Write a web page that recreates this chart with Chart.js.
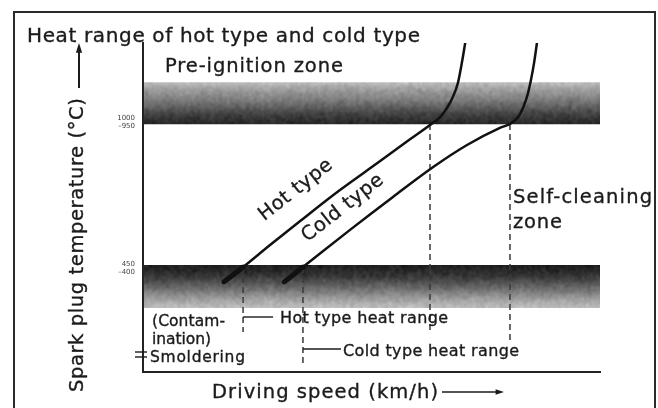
<!DOCTYPE html>
<html lang="en">
<head>
<meta charset="UTF-8">
<title>Heat range of hot type and cold type</title>
<style>
    body {
        margin: 0;
        background: #fff;
    }

    #heatChart {
        display: block;
    }
</style>
</head>
<body>

<canvas id="heatChart" width="658" height="408"></canvas>

<script src="https://cdn.jsdelivr.net/npm/chart.js"></script>
<script>
// Both axes are relative (0-100): driving speed across, plug temperature up
const hotSpeed = [17.7, 21.9, 27.8, 34.4, 43.1, 51.9, 58.5, 62.8, 65.0, 66.5, 67.8, 68.9, 69.8, 70.5];
const hotTemp = [27.4, 31.9, 38.6, 45.9, 55.3, 64.1, 70.8, 75.1, 77.5, 80.2, 83.6, 87.8, 94.2, 100];
const coldSpeed = [30.9, 35.0, 45.3, 54.7, 63.5, 70.9, 78.1, 80.3, 82.1, 83.2, 84.2, 84.9, 85.6, 86.2];
const coldTemp = [27.4, 31.9, 43.2, 53.2, 62.3, 69.0, 74.2, 75.4, 77.5, 80.5, 84.5, 88.8, 94.2, 100];

// temperature zones [low, high]
const preIgnitionBand = [75.4, 88.1];
const foulingBand = [19.5, 32.5];

// heat range of each plug type on the speed axis [start, end]
const hotRange = [21.9, 62.8];
const coldRange = [35.0, 80.3];

const tempTicks = [31.6, 76.0];
const tempTickLabels = [['450', '–400'], ['1000', '–950']];

const FONT = '"DejaVu Sans", sans-serif';
const INK = '#1b1b1b';

// text with its run stretched to a given width by letter spacing
function spacedText(ctx, text, x, y, size, width, opts = {}) {
    ctx.save();
    ctx.font = size + 'px ' + FONT;
    ctx.fillStyle = INK;
    ctx.strokeStyle = INK;
    ctx.lineWidth = 0.35;
    ctx.textBaseline = opts.baseline || 'alphabetic';
    ctx.textAlign = opts.align || 'left';
    const natural = ctx.measureText(text).width;
    if ('letterSpacing' in ctx && text.length > 1) {
        ctx.letterSpacing = ((width - natural) / (text.length - 1)).toFixed(2) + 'px';
    }
    ctx.translate(x, y);
    if (opts.rotate) ctx.rotate(opts.rotate);
    ctx.fillText(text, 0, 0);
    ctx.strokeText(text, 0, 0);
    ctx.restore();
}

function grey(stops, t) {
    t = Math.max(0, Math.min(1, t));
    for (let i = 1; i < stops.length; i++) {
        if (t <= stops[i][0]) {
            const [t0, v0] = stops[i - 1];
            const [t1, v1] = stops[i];
            return v0 + (v1 - v0) * (t - t0) / (t1 - t0);
        }
    }
    return stops[stops.length - 1][1];
}

// shaded, grainy strip used for the two temperature zones
// (pad extra pixels round it so the softening blur keeps crisp edges)
function bandTexture(w, h, pad, stops, seed) {
    const c = document.createElement('canvas');
    c.width = w + pad * 2;
    c.height = h + pad * 2;
    const g = c.getContext('2d');
    const img = g.createImageData(c.width, c.height);
    let s = seed;
    const grain = () => {
        s = (s * 1664525 + 1013904223) >>> 0;
        return s / 4294967296 - 0.5;
    };
    const streak = [];
    for (let x = 0; x < c.width; x++) streak.push(grain() * 10);
    for (let y = 0; y < c.height; y++) {
        const base = grey(stops, (y - pad) / (h - 1));
        for (let x = 0; x < c.width; x++) {
            const v = Math.max(0, Math.min(255, base + streak[x] + grain() * 60));
            const i = (y * c.width + x) * 4;
            img.data[i] = img.data[i + 1] = img.data[i + 2] = v;
            img.data[i + 3] = 255;
        }
    }
    g.putImageData(img, 0, 0);
    return c;
}

function drawBand(ctx, x, y, band, stops, seed) {
    const left = x.left + 1;
    const right = x.getPixelForValue(100);
    const top = y.getPixelForValue(band[1]);
    const bottom = y.getPixelForValue(band[0]);
    const w = Math.round(right - left);
    const h = Math.round(bottom - top);
    const pad = 4;
    ctx.save();
    ctx.beginPath();
    ctx.rect(left, top, w, h);
    ctx.clip();
    ctx.filter = 'blur(0.8px)';
    ctx.drawImage(bandTexture(w, h, pad, stops, seed), left - pad, top - pad);
    ctx.restore();
}

function arrow(ctx, x1, y1, x2, y2, head) {
    const a = Math.atan2(y2 - y1, x2 - x1);
    ctx.beginPath();
    ctx.moveTo(x1, y1);
    ctx.lineTo(x2 - Math.cos(a) * head, y2 - Math.sin(a) * head);
    ctx.stroke();
    ctx.beginPath();
    ctx.moveTo(x2, y2);
    ctx.lineTo(x2 - Math.cos(a) * head * 1.4 + Math.sin(a) * head * 0.45, y2 - Math.sin(a) * head * 1.4 - Math.cos(a) * head * 0.45);
    ctx.lineTo(x2 - Math.cos(a) * head * 1.4 - Math.sin(a) * head * 0.45, y2 - Math.sin(a) * head * 1.4 + Math.cos(a) * head * 0.45);
    ctx.closePath();
    ctx.fill();
}

const zonesPlugin = {
    id: 'zones',
    beforeDraw(chart) {
        const {ctx, scales: {x, y}} = chart;

        // pre-ignition zone: grey on top, dark toward the lower edge
        drawBand(ctx, x, y, preIgnitionBand, [[0, 190], [0.12, 165], [0.45, 120], [0.75, 68], [1, 40]], 7);
        // fouling zone: dark on top, fading downward
        drawBand(ctx, x, y, foulingBand, [[0, 30], [0.25, 55], [0.55, 110], [0.8, 160], [1, 190]], 19);

        ctx.save();
        // dashed limits of each heat range
        ctx.strokeStyle = '#3a3a3a';
        ctx.lineWidth = 1.5;
        ctx.setLineDash([6, 4]);
        const drops = [
            [hotRange[0], y.getPixelForValue(hotTemp[1]), 332],
            [hotRange[1], y.getPixelForValue(preIgnitionBand[0]), 332],
            [coldRange[0], y.getPixelForValue(coldTemp[1]), 365],
            [coldRange[1], y.getPixelForValue(preIgnitionBand[0]), 342]
        ];
        drops.forEach(([v, y0, y1]) => {
            const px = x.getPixelForValue(v);
            ctx.beginPath();
            ctx.moveTo(px, y0);
            ctx.lineTo(px, y1);
            ctx.stroke();
        });
        ctx.setLineDash([]);

        // leaders from the start lines to the range labels
        ctx.lineWidth = 1.4;
        ctx.strokeStyle = INK;
        let px = x.getPixelForValue(hotRange[0]);
        ctx.beginPath();
        ctx.moveTo(px, 317);
        ctx.lineTo(px + 30, 317);
        ctx.stroke();
        px = x.getPixelForValue(coldRange[0]);
        ctx.beginPath();
        ctx.moveTo(px, 349);
        ctx.lineTo(px + 38, 349);
        ctx.stroke();
        ctx.restore();
    },
    afterDraw(chart) {
        const {ctx, chartArea} = chart;
        ctx.save();

        // frame around the figure
        ctx.strokeStyle = '#2a2a2a';
        ctx.lineWidth = 2;
        ctx.strokeRect(14, 12, 641, 420);

        const slope = -38 * Math.PI / 180;
        spacedText(ctx, 'Heat range of hot type and cold type', 27, 42, 20, 393);
        spacedText(ctx, 'Pre-ignition zone', 165, 72, 19.5, 178);
        spacedText(ctx, 'Self-cleaning', 513, 203, 19.5, 139);
        spacedText(ctx, 'zone', 513, 228, 19.5, 49);
        spacedText(ctx, 'Hot type', 296, 190, 19.5, 88, {align: 'center', baseline: 'middle', rotate: slope});
        spacedText(ctx, 'Cold type', 343, 208, 19.5, 98, {align: 'center', baseline: 'middle', rotate: slope});
        spacedText(ctx, 'Hot type heat range', 280, 323, 16, 168);
        spacedText(ctx, 'Cold type heat range', 343, 356, 16, 176);
        spacedText(ctx, '(Contam-', 152, 326, 15.5, 73);
        spacedText(ctx, 'ination)', 152, 344, 15.5, 59);
        spacedText(ctx, 'Smoldering', 150, 362, 15.5, 95);

        // smoldering mark across the temperature axis
        ctx.strokeStyle = INK;
        ctx.lineWidth = 1.4;
        [352, 357].forEach(py => {
            ctx.beginPath();
            ctx.moveTo(chartArea.left - 8, py);
            ctx.lineTo(chartArea.left + 4, py);
            ctx.stroke();
        });

        // axis titles with their arrows
        spacedText(ctx, 'Spark plug temperature (°C)', 78, 392, 19.5, 294, {baseline: 'middle', rotate: -Math.PI / 2});
        spacedText(ctx, 'Driving speed (km/h)', 212, 398, 19.5, 226);
        ctx.fillStyle = INK;
        ctx.lineWidth = 2;
        arrow(ctx, 79, 88, 79, 43, 7);
        ctx.lineWidth = 1.6;
        arrow(ctx, 442, 392, 504, 392, 6);
        ctx.restore();
    }
};

const ctx = document.getElementById('heatChart').getContext('2d');

new Chart(ctx, {
    type: 'line',
    data: {
        datasets: [{
            label: 'Hot type',
            data: hotSpeed.map((s, i) => ({x: s, y: hotTemp[i]})),
        }, {
            label: 'Cold type',
            data: coldSpeed.map((s, i) => ({x: s, y: coldTemp[i]})),
        }]
    },
    options: {
        responsive: false,
        animation: false,
        devicePixelRatio: 1,
        layout: {
            padding: {top: 43, right: 58, left: 0, bottom: 0}
        },
        elements: {
            line: {
                borderColor: '#111',
                borderWidth: 2.5,
                cubicInterpolationMode: 'monotone',
                borderCapStyle: 'round'
            },
            point: {radius: 0}
        },
        datasets: {
            line: {
                // thick start where each curve leaves the fouling zone
                segment: {
                    borderWidth: c => c.p0DataIndex === 0 ? 5 : undefined
                }
            }
        },
        plugins: {
            legend: {display: false},
            tooltip: {enabled: false}
        },
        scales: {
            x: {
                type: 'linear',
                min: 0,
                max: 100,
                afterFit: s => { s.height = 36; },
                grid: {display: false, drawTicks: false},
                border: {display: true, color: '#222', width: 2},
                ticks: {display: false}
            },
            y: {
                type: 'linear',
                min: 0,
                max: 100,
                afterFit: s => { s.width = 143; },
                afterBuildTicks: s => { s.ticks = tempTicks.map(v => ({value: v})); },
                grid: {display: false, drawTicks: false},
                border: {display: true, color: '#222', width: 2},
                ticks: {
                    padding: 8,
                    color: '#444',
                    font: {family: FONT, size: 7},
                    callback: (v, i) => tempTickLabels[i]
                }
            }
        }
    },
    plugins: [zonesPlugin]
});
</script>

</body>
</html>
